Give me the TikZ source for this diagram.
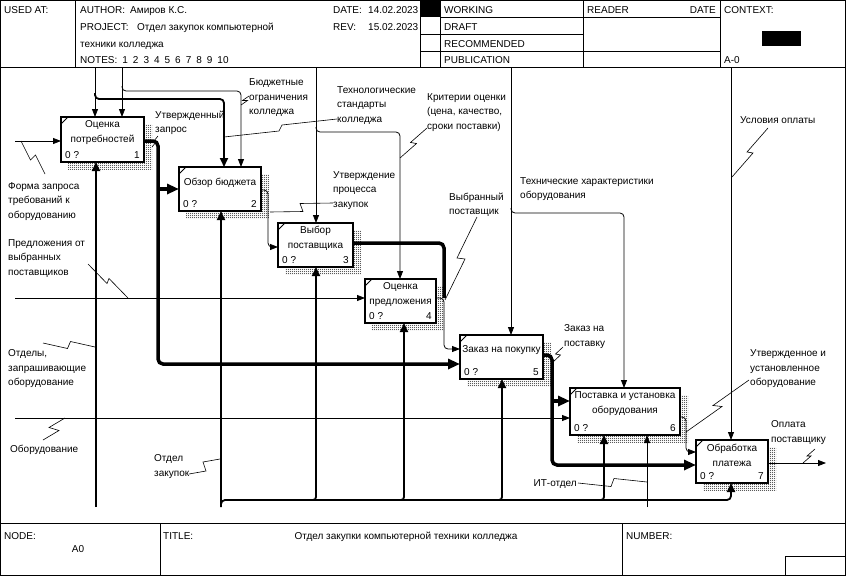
\documentclass[tikz,border=0pt]{standalone}
\usepackage{fontspec}
\setmainfont{Liberation Sans}
\usetikzlibrary{arrows.meta,patterns,positioning,calc}

\pgfdeclarepatternformonly{dither}{\pgfqpoint{0pt}{0pt}}{\pgfqpoint{2pt}{2pt}}{\pgfqpoint{2pt}{2pt}}{%
    \pgfpathrectangle{\pgfqpoint{0pt}{0pt}}{\pgfqpoint{0.8pt}{0.8pt}}
    \pgfpathrectangle{\pgfqpoint{1pt}{1pt}}{\pgfqpoint{0.8pt}{0.8pt}}
    \pgfusepath{fill}
}

\tikzset{
    frm/.style={line width=0.8pt},
    actbox/.style={draw, fill=white, line width=1.8pt, inner sep=0pt, outer sep=0pt},
    shade/.style={pattern=dither, pattern color=black},
    txt/.style={font=\fontsize{10}{14.5}\selectfont, inner sep=0pt, align=left},
    lab/.style={txt, anchor=north west},
    ctl/.style={line width=0.8pt, -{Triangle[length=8pt,width=6pt]}},
    mec/.style={line width=1.8pt, -{Triangle[length=9pt,width=8pt]}},
    thk/.style={line width=3.5pt, -{Triangle[length=12pt,width=10pt]}},
    thkline/.style={line width=3.5pt},
    squigline/.style={line width=0.6pt}
}

\newcommand{\actbox}[7]{%
    \fill[shade] (#2+7,#3+7) rectangle (#4+8,#5+7);
    \node[actbox, minimum width={#4-#2}, minimum height={#5-#3}] (#1) at ({(#2+#4)/2},{(#3+#5)/2}) {};
    \draw[line width=0.8pt] (#2,#3+7) -- (#2+7,#3);
    \node[txt, align=center] (#1t) at ({(#2+#4)/2},#3+15.5) {#6};
    \node[txt, anchor=base west] (#1z) at (#2+4,#5-3.5) {0 ?};
    \node[txt, anchor=base east] (#1n) at (#4-4,#5-3.5) {#7};
}
\newcommand{\squig}[3]{%
    \draw[squigline] (#1) -- ($(#1)!.5!(#2)-0.5*#3$) -- ($(#1)!.5!(#2)+0.5*#3$) -- (#2);
}

\begin{document}
\begin{tikzpicture}[x=1pt, y=-1pt]
    \useasboundingbox (0,0) rectangle (846,576);

    \draw[frm] (0.5,0.5) rectangle (845.5,575.5);
    \draw[frm] (0,67) -- (846,67);
    \draw[frm] (0,523) -- (846,523);
    \foreach \hx in {75,420,440,583,720}
        \draw[frm] (\hx,0) -- (\hx,67);
    \draw[frm] (440,17) -- (720,17);
    \draw[frm] (420,34) -- (583,34);
    \draw[frm] (420,51) -- (720,51);
    \fill (420,0) rectangle (440,17);
    \fill (762,31) rectangle (801,46);
    \draw[frm] (160,523) -- (160,576);
    \draw[frm] (622,523) -- (622,576);
    \draw[frm] (785,576) -- (785,556) -- (846,556);

    \node[txt, anchor=base west] (usedat) at (4,13.5) {USED AT:};
    \node[txt, anchor=base west] (author) at (80,13.5) {AUTHOR:};
    \node[txt, anchor=base west] (authorv) at (130,13.5) {Амиров К.С.};
    \node[txt, anchor=base west] (project) at (80,30.5) {PROJECT:};
    \node[txt, anchor=base west] (projectv) at (137,30.5) {Отдел закупок компьютерной};
    \node[txt, anchor=base west] (projectw) at (80,47.5) {техники колледжа};
    \node[txt, anchor=base west] (notes) at (80,63.5) {NOTES:\hspace{5pt}1\hspace{5pt}2\hspace{5pt}3\hspace{5pt}4\hspace{5pt}5\hspace{5pt}6\hspace{5pt}7\hspace{5pt}8\hspace{5pt}9\hspace{5pt}10};
    \node[txt, anchor=base west] (date) at (333,13.5) {DATE:};
    \node[txt, anchor=base west] (datev) at (368,13.5) {14.02.2023};
    \node[txt, anchor=base west] (rev) at (333,30.5) {REV:};
    \node[txt, anchor=base west] (revv) at (368,30.5) {15.02.2023};
    \node[txt, anchor=base west] (working) at (444,13.5) {WORKING};
    \node[txt, anchor=base west] (draft) at (444,30.5) {DRAFT};
    \node[txt, anchor=base west] (recom) at (444,47.5) {RECOMMENDED};
    \node[txt, anchor=base west] (publ) at (444,63.5) {PUBLICATION};
    \node[txt, anchor=base west] (reader) at (587,13.5) {READER};
    \node[txt, anchor=base east] (rdate) at (716,13.5) {DATE};
    \node[txt, anchor=base west] (context) at (724,13.5) {CONTEXT:};
    \node[txt, anchor=base west] (ctxnode) at (724,63.5) {A-0};
    \node[txt, anchor=base west] (nodelab) at (4,539.5) {NODE:};
    \node[txt, anchor=base] (nodeval) at (78,552.5) {A0};
    \node[txt, anchor=base west] (titlelab) at (163,539.5) {TITLE:};
    \node[txt, anchor=base] (titleval) at (406,539.5) {Отдел закупки компьютерной техники колледжа};
    \node[txt, anchor=base west] (numlab) at (626,539.5) {NUMBER:};

    \actbox{b1}{61}{117}{144}{162}{Оценка\\потребностей}{1}
    \actbox{b2}{179}{167}{261}{211}{Обзор бюджета}{2}
    \actbox{b3}{278}{223}{353}{267}{Выбор\\поставщика}{3}
    \actbox{b4}{365}{279}{436}{323}{Оценка\\предложения}{4}
    \actbox{b5}{460}{335}{543}{379}{Заказ на покупку}{5}
    \actbox{b6}{570}{388}{680}{435}{Поставка и установка\\оборудования}{6}
    \actbox{b7}{696}{440}{768}{483}{Обработка\\платежа}{7}

    \coordinate (t1) at (95,67);
    \coordinate (t2) at (122,67);
    \coordinate (t3) at (316,67);
    \coordinate (t4) at (511,67);
    \coordinate (t5) at (731,67);
    \draw[ctl] (t1) -- (t1 |- b1.north);
    \draw[ctl] (t2) -- (t2 |- b1.north);
    \coordinate (t1b) at (224,99);
    \draw[mec, rounded corners=4] (95,93) |- (t1b) -- (t1b |- b2.north);
    \coordinate (t2b) at (241,91);
    \draw[ctl, rounded corners=4] (122,86) |- (t2b) -- (t2b |- b2.north);
    \draw[ctl] (t3) -- (t3 |- b3.north);
    \coordinate (t3b) at (400,132);
    \draw[ctl, rounded corners=4] (316,127) |- (t3b) -- (t3b |- b4.north);
    \draw[ctl] (t4) -- (t4 |- b5.north);
    \coordinate (t4b) at (624,213);
    \draw[ctl, rounded corners=4] (511,208) |- (t4b) -- (t4b |- b6.north);
    \draw[ctl] (t5) -- (t5 |- b7.north);

    \coordinate (i1) at (15,141);
    \coordinate (i2) at (15,298);
    \coordinate (i3) at (15,418);
    \draw[ctl] (i1) -- (i1 -| b1.west);
    \draw[ctl] (i2) -- (i2 -| b4.west);
    \draw[ctl] (i3) -- (i3 -| b6.west);

    \coordinate (m1) at (96,507);
    \coordinate (m2) at (221,507);
    \coordinate (m6) at (647,507);
    \coordinate (m7) at (731,500);
    \draw[mec] (m1) -- (m1 |- b1.south);
    \draw[mec] (m2) -- (m2 |- b2.south);
    \draw[mec, rounded corners=4] (m2) |- (m7) -- (m7 |- b7.south);
    \foreach \mx/\mb in {316/b3, 404/b4, 502/b5, 604/b6} {
        \coordinate (mj) at (\mx,500);
        \draw[mec, rounded corners=3] ([xshift=-6pt]mj) -| (mj |- \mb.south);
    }
    \draw[ctl] (m6) -- (m6 |- b6.south);

    \coordinate (o1) at (158,141);
    \coordinate (o1a) at (158,364);
    \coordinate (o1b) at (158,189);
    \draw[thk, rounded corners=5] (b1.east |- o1) -- (o1) -- (o1a) -- (o1a -| b5.west);
    \draw[thk] (o1b) -- (o1b -| b2.west);
    \coordinate (o2) at (268,190);
    \coordinate (o2a) at (268,247);
    \draw[ctl, rounded corners=4] (b2.east |- o2) -- (o2) -- (o2a) -- (o2a -| b3.west);
    \coordinate (o3) at (444,243);
    \coordinate (o4) at (444,298);
    \coordinate (o4a) at (444,349);
    \draw[thkline, rounded corners=5] (b3.east |- o3) -- (o3) -- (o4);
    \draw[ctl, rounded corners=4] (b4.east |- o4) -- (o4) -- (o4a) -- (o4a -| b5.west);
    \coordinate (o5) at (552,355);
    \coordinate (o5a) at (552,465);
    \coordinate (o5b) at (552,401);
    \draw[thk, rounded corners=5] (b5.east |- o5) -- (o5) -- (o5a) -- (o5a -| b7.west);
    \draw[thk] (o5b) -- (o5b -| b6.west);
    \coordinate (o6) at (686,417);
    \coordinate (o6a) at (686,452);
    \draw[ctl, rounded corners=4] (b6.east |- o6) -- (o6) -- (o6a) -- (o6a -| b7.west);
    \coordinate (o7) at (826,463);
    \draw[ctl] (b7.east |- o7) -- (o7);

    \node[lab] (lbudget) at (249,78.5) {Бюджетные\\ограничения\\колледжа};
    \node[lab] (lreq) at (155,110.5) {Утвержденный\\запрос};
    \node[lab] (ltech) at (337,86) {Технологические\\стандарты\\колледжа};
    \node[lab] (lcrit) at (427,93) {Критерии оценки\\(цена, качество,\\сроки поставки)};
    \node[lab] (lcond) at (740,116.5) {Условия оплаты};
    \node[lab] (lform) at (8,182) {Форма запроса\\требований к\\оборудованию};
    \node[lab] (lappr) at (333,171) {Утверждение\\процесса\\закупок};
    \node[lab] (lsup) at (449,192.5) {Выбранный\\поставщик};
    \node[lab] (ltch) at (520,177) {Технические характеристики\\оборудования};
    \node[lab] (lpred) at (8,239) {Предложения от\\выбранных\\поставщиков};
    \node[lab] (ldept) at (8,349.5) {Отделы,\\запрашивающие\\оборудование};
    \node[lab] (lorder) at (564,324.5) {Заказ на\\поставку};
    \node[lab] (linst) at (750,349.5) {Утвержденное и\\установленное\\оборудование};
    \node[lab] (lequip) at (10,444.5) {Оборудование};
    \node[lab] (lpay) at (771,420.5) {Оплата\\поставщику};
    \node[lab] (lzak) at (154,454.5) {Отдел\\закупок};
    \node[txt, anchor=base east] (lit) at (577,486.5) {ИТ-отдел};

    \squig{45,174}{21,141}{(-5,5)}
    \squig{249,96}{241,105}{(5,0)}
    \squig{158,136}{152,147}{(3,0)}
    \squig{337,119}{224,137}{(-3,6)}
    \squig{333,203}{270,212}{(3,8)}
    \squig{427,128}{400,158}{(6,1)}
    \squig{88,264}{128,298}{(2,-5)}
    \squig{43,343}{95,347}{(3,-7)}
    \squig{43,440}{65,418}{(-10,-3)}
    \squig{189,474}{220,459}{(-3,-9)}
    \squig{477,217}{445,300}{(8,1)}
    \squig{563,347}{553,362}{(5,1)}
    \squig{749,380}{686,432}{(9,1)}
    \squig{815,449}{803,463}{(4,0)}
    \squig{768,128}{732,177}{(6,1)}
    \squig{578,483}{647,482}{(3,-8)}
\end{tikzpicture}
\end{document}
